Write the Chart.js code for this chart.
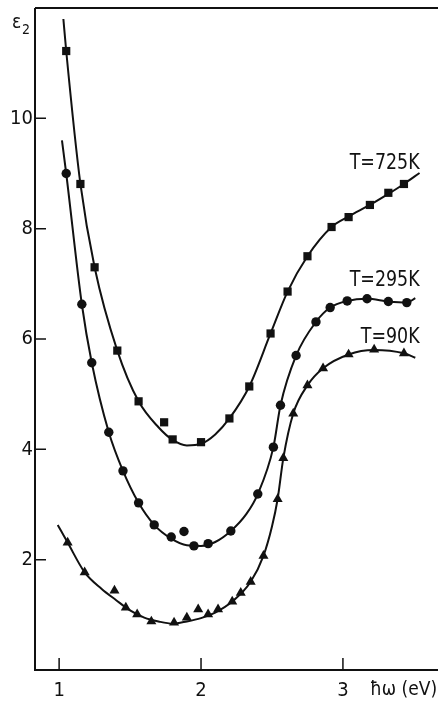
<!DOCTYPE html>
<html>
<head>
<meta charset="utf-8">
<script src="https://cdn.jsdelivr.net/npm/chart.js@4.4.1/dist/chart.umd.min.js"></script>
<style>
  html, body { margin: 0; padding: 0; background: #fff; }
  #wrap { width: 438px; height: 702px; position: relative; }
</style>
</head>
<body>
<div id="wrap"><canvas id="eps2Chart"></canvas></div>
<script>
// measured points: photon energy (eV) and eps2, one pair of arrays per temperature
const x725 = [1.05, 1.15, 1.25, 1.41, 1.56, 1.74, 1.80, 2.00, 2.20, 2.34, 2.49, 2.61, 2.75, 2.92, 3.04, 3.19, 3.32, 3.43];
const y725 = [11.22, 8.81, 7.30, 5.79, 4.87, 4.49, 4.18, 4.13, 4.56, 5.14, 6.10, 6.86, 7.50, 8.03, 8.21, 8.43, 8.65, 8.81];

const x295 = [1.05, 1.16, 1.23, 1.35, 1.45, 1.56, 1.67, 1.79, 1.88, 1.95, 2.05, 2.21, 2.40, 2.51, 2.56, 2.67, 2.81, 2.91, 3.03, 3.17, 3.32, 3.45];
const y295 = [9.00, 6.63, 5.57, 4.31, 3.61, 3.03, 2.63, 2.41, 2.51, 2.25, 2.29, 2.52, 3.19, 4.04, 4.80, 5.70, 6.31, 6.57, 6.69, 6.73, 6.68, 6.66];

const x90 = [1.06, 1.18, 1.39, 1.47, 1.55, 1.65, 1.81, 1.90, 1.98, 2.05, 2.12, 2.22, 2.28, 2.35, 2.44, 2.54, 2.58, 2.65, 2.75, 2.86, 3.04, 3.22, 3.43];
const y90 = [2.31, 1.77, 1.44, 1.13, 1.01, 0.88, 0.86, 0.95, 1.10, 1.01, 1.10, 1.24, 1.40, 1.60, 2.07, 3.10, 3.84, 4.65, 5.16, 5.47, 5.72, 5.81, 5.74];

// fitted curves
const cx725 = [1.03, 1.05, 1.15, 1.25, 1.41, 1.56, 1.70, 1.80, 1.90, 2.00, 2.10, 2.20, 2.34, 2.49, 2.61, 2.75, 2.92, 3.04, 3.19, 3.32, 3.43, 3.54];
const cy725 = [11.80, 11.22, 8.81, 7.30, 5.79, 4.87, 4.40, 4.17, 4.07, 4.10, 4.27, 4.56, 5.14, 6.10, 6.86, 7.50, 8.03, 8.22, 8.43, 8.63, 8.81, 9.01];

const cx295 = [1.02, 1.05, 1.16, 1.23, 1.35, 1.45, 1.56, 1.67, 1.79, 1.90, 2.00, 2.10, 2.21, 2.32, 2.40, 2.51, 2.56, 2.67, 2.81, 2.91, 3.03, 3.17, 3.32, 3.45, 3.51];
const cy295 = [9.60, 9.00, 6.63, 5.57, 4.31, 3.61, 3.03, 2.63, 2.38, 2.26, 2.25, 2.32, 2.52, 2.83, 3.19, 4.04, 4.80, 5.70, 6.31, 6.57, 6.69, 6.73, 6.68, 6.66, 6.74];

const cx90 = [0.99, 1.06, 1.18, 1.30, 1.40, 1.50, 1.60, 1.70, 1.80, 1.90, 2.00, 2.10, 2.22, 2.35, 2.44, 2.50, 2.54, 2.58, 2.65, 2.75, 2.86, 3.04, 3.22, 3.43, 3.51];
const cy90 = [2.63, 2.31, 1.77, 1.47, 1.27, 1.08, 0.95, 0.88, 0.84, 0.88, 0.94, 1.04, 1.24, 1.60, 2.07, 2.60, 3.10, 3.84, 4.65, 5.16, 5.47, 5.72, 5.80, 5.74, 5.66];

const xTicks = [1, 2, 3];
const yTicks = [2, 4, 6, 8, 10];
const seriesNames = ['T=725K', 'T=295K', 'T=90K'];

const INK = '#111';
const FONT = '"DejaVu Sans Condensed", "Liberation Sans Narrow", sans-serif';

const pts = (xs, ys) => xs.map((x, i) => ({ x: x, y: ys[i] }));

function curve(xs, ys) {
    return {
        type: 'line',
        data: pts(xs, ys),
        borderColor: INK,
        borderWidth: 2,
        pointRadius: 0,
        cubicInterpolationMode: 'monotone',
        fill: false,
        order: 2
    };
}

function marks(xs, ys, style, r) {
    return {
        type: 'scatter',
        data: pts(xs, ys),
        pointStyle: style,
        pointRadius: r,
        backgroundColor: INK,
        borderColor: INK,
        borderWidth: 0,
        order: 1
    };
}

// draws text squeezed horizontally, like the condensed lettering of the original
function narrowText(ctx, text, x, y, squeeze) {
    ctx.save();
    ctx.translate(x, y);
    ctx.scale(squeeze, 1);
    ctx.fillText(text, 0, 0);
    ctx.restore();
}

// axes frame, inward ticks and text labels
const framePlugin = {
    id: 'frame',
    afterDraw(chart) {
        const ctx = chart.ctx;
        const a = chart.chartArea;
        const xs = chart.scales.x, ys = chart.scales.y;
        ctx.save();
        ctx.strokeStyle = INK;
        ctx.lineWidth = 2;
        ctx.beginPath();
        ctx.moveTo(a.left, a.top);
        ctx.lineTo(a.right, a.top);
        ctx.moveTo(a.left, a.top);
        ctx.lineTo(a.left, a.bottom);
        ctx.lineTo(a.right, a.bottom);
        ctx.stroke();

        ctx.lineWidth = 1.5;
        ctx.beginPath();
        yTicks.forEach(v => {
            const py = ys.getPixelForValue(v);
            ctx.moveTo(a.left, py);
            ctx.lineTo(a.left + 11, py);
        });
        xTicks.forEach(v => {
            const px = xs.getPixelForValue(v);
            ctx.moveTo(px, a.bottom);
            ctx.lineTo(px, a.bottom - 12);
        });
        ctx.stroke();

        ctx.fillStyle = INK;
        // series labels, right aligned near curve ends
        ctx.font = '22px ' + FONT;
        ctx.textAlign = 'right';
        ctx.textBaseline = 'middle';
        const labelY = [9.18, 7.07, 6.03];
        seriesNames.forEach((t, i) => {
            narrowText(ctx, t, xs.getPixelForValue(3.54), ys.getPixelForValue(labelY[i]), 0.88);
        });

        // axis titles
        ctx.textAlign = 'left';
        ctx.font = '20px ' + FONT;
        narrowText(ctx, 'ħω (eV)', xs.getPixelForValue(3.19), a.bottom + 20, 0.95);

        ctx.textBaseline = 'alphabetic';
        ctx.font = '19px ' + FONT;
        ctx.fillText('ε', 12, 28);
        ctx.font = '14px ' + FONT;
        ctx.fillText('2', 22, 34);
        ctx.restore();
    }
};

new Chart(document.getElementById('eps2Chart'), {
    type: 'scatter',
    data: {
        datasets: [
            marks(x725, y725, 'rect', 5.8),
            marks(x295, y295, 'circle', 4.7),
            marks(x90, y90, 'triangle', 5.8),
            curve(cx725, cy725),
            curve(cx295, cy295),
            curve(cx90, cy90)
        ]
    },
    options: {
        responsive: true,
        maintainAspectRatio: false,
        animation: false,
        layout: { autoPadding: false, padding: { top: 8, right: 0, left: 0, bottom: 0 } },
        plugins: {
            legend: { display: false },
            tooltip: { enabled: false }
        },
        scales: {
            x: {
                type: 'linear',
                min: 0.83,
                max: 3.67,
                grid: { display: false, drawTicks: false },
                border: { display: false },
                afterBuildTicks: s => { s.ticks = xTicks.map(v => ({ value: v })); },
                afterFit: s => { s.height = 32; s.paddingLeft = 0; s.paddingRight = 0; },
                ticks: {
                    color: INK,
                    font: { family: FONT, size: 20 },
                    padding: 9,
                    maxRotation: 0,
                    autoSkip: false
                }
            },
            y: {
                type: 'linear',
                min: 0,
                max: 12,
                grid: { display: false, drawTicks: false },
                border: { display: false },
                afterBuildTicks: s => { s.ticks = yTicks.map(v => ({ value: v })); },
                afterFit: s => { s.width = 35; s.paddingTop = 0; s.paddingBottom = 0; },
                ticks: {
                    color: INK,
                    font: { family: FONT, size: 20 },
                    padding: 2,
                    autoSkip: false
                }
            }
        }
    },
    plugins: [framePlugin]
});
</script>
</body>
</html>
